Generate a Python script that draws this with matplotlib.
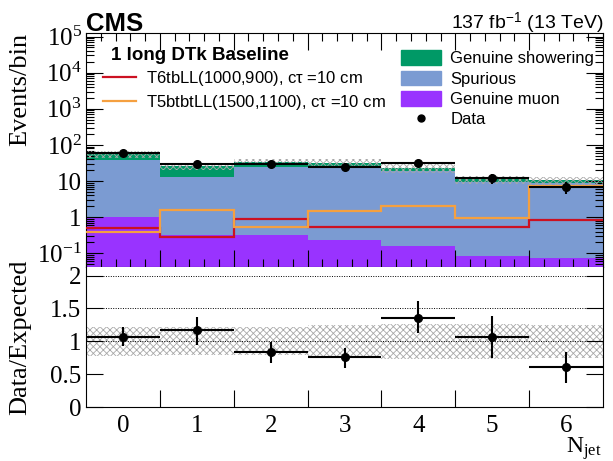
import numpy as np
import matplotlib
matplotlib.use("Agg")
import matplotlib.pyplot as plt
from matplotlib.lines import Line2D
from matplotlib.patches import Patch
from matplotlib.ticker import FixedLocator, LogLocator, NullFormatter

# ---------------- data ----------------
njet = [0, 1, 2, 3, 4, 5, 6]
njet_labels = ["0", "1", "2", "3", "4", "5", "6"]
genuine_muon = [1.0, 0.32, 0.32, 0.235, 0.16, 0.085, 0.076]
spurious = [38.0, 12.6, 24.0, 24.0, 18.4, 9.1, 8.7]
genuine_showering = [17.0, 13.0, 10.0, 8.0, 4.5, 1.9, 1.7]
data = [59, 30, 29, 25, 31, 12, 7]
sig_t6 = [0.49, 0.29, 0.90, 0.55, 0.52, 0.55, 0.81]
sig_t5 = [0.40, 1.60, 0.52, 1.50, 1.98, 0.94, 7.1]
ratio = [1.07, 1.17, 0.83, 0.76, 1.36, 1.07, 0.61]
ratio_err_up = [0.14, 0.20, 0.16, 0.14, 0.25, 0.31, 0.22]
ratio_err_dn = [0.14, 0.23, 0.16, 0.16, 0.24, 0.32, 0.24]
band_up = [1.21, 1.21, 1.21, 1.24, 1.26, 1.26, 1.24]
band_dn = [0.78, 0.79, 0.79, 0.76, 0.73, 0.73, 0.75]

# ---------------- style ----------------
plt.rcParams['mathtext.fontset'] = 'custom'
plt.rcParams['mathtext.rm'] = 'Liberation Serif'
plt.rcParams['mathtext.it'] = 'Liberation Serif:italic'
plt.rcParams['hatch.linewidth'] = 0.6
SERIF = 'Liberation Serif'
SANS = 'Liberation Sans'

c_show = '#009966'
c_spur = '#7b9bd2'
c_muon = '#9933ff'
c_t6 = '#cc1122'
c_t5 = '#f5a040'

W, H = 613, 461
fig = plt.figure(figsize=(W / 100, H / 100), dpi=100)
L, R = 86 / W, 603 / W
ax = fig.add_axes([L, 1 - 267 / H, R - L, (267 - 33) / H])
axr = fig.add_axes([L, 1 - 407 / H, R - L, (407 - 267) / H])

x = np.array(njet, dtype=float)
edges = np.append(x - 0.5, x[-1] + 0.5)
mu = np.array(genuine_muon)
sp = np.array(spurious)
sh = np.array(genuine_showering)
tot = mu + sp + sh
ymin, ymax = 10 ** -1.38, 10 ** 5.1

def stairs_fill(a, lo, hi, color, z):
    a.stairs(hi, edges, baseline=lo, fill=True, color=color, lw=0, zorder=z)

stairs_fill(ax, np.full_like(mu, ymin), mu, c_muon, 1)
stairs_fill(ax, mu, mu + sp, c_spur, 1)
stairs_fill(ax, mu + sp, tot, c_show, 1)

# uncertainty hatch
ax.bar(x, tot * (np.array(band_up) - np.array(band_dn)), bottom=tot * np.array(band_dn),
       width=1.0, fill=False, hatch='xxxxx', edgecolor='#a8a8a8', lw=0, zorder=2)

ax.stairs(sig_t6, edges, baseline=None, color=c_t6, lw=1.6, zorder=3)
ax.stairs(sig_t5, edges, baseline=None, color=c_t5, lw=1.6, zorder=3)

d = np.array(data, dtype=float)
ax.errorbar(x, d, yerr=np.sqrt(d), xerr=0.5, fmt='o', color='black', ms=5.5,
            elinewidth=1.5, capsize=0, zorder=5)

ax.set_yscale('log')
ax.set_ylim(ymin, ymax)
ax.set_xlim(-0.5, 6.5)
ax.yaxis.set_major_locator(FixedLocator([0.1, 1, 10, 100, 1e3, 1e4, 1e5]))
ax.set_yticklabels([r'$10^{-1}$', '1', '10', r'$10^{2}$', r'$10^{3}$', r'$10^{4}$', r'$10^{5}$'])
ax.yaxis.set_minor_locator(LogLocator(base=10, subs=np.arange(2, 10), numticks=20))
ax.yaxis.set_minor_formatter(NullFormatter())
ax.set_xticks(edges[1:-1])
ax.set_xticks(np.arange(-0.5, 6.51, 0.2), minor=True)
ax.tick_params(axis='x', labelbottom=False)
ax.tick_params(which='both', direction='in', top=True, right=True)
ax.tick_params(which='major', length=12, width=0.8)
ax.tick_params(which='minor', length=6, width=0.8)
for lab in ax.get_yticklabels():
    lab.set_fontfamily(SERIF)
ax.tick_params(axis='y', labelsize=18, pad=3)
ax.set_ylabel('Events/bin', fontfamily=SERIF, fontsize=19, loc='top', labelpad=2)

# legends
h_left = [Line2D([], [], color=c_t6, lw=1.6), Line2D([], [], color=c_t5, lw=1.6)]
l_left = [r'T6tbLL(1000,900), c$\mathregular{\tau}$ =10 cm',
          r'T5btbtLL(1500,1100), c$\mathregular{\tau}$ =10 cm']
leg1 = ax.legend(h_left, l_left, loc='upper left', bbox_to_anchor=(0.02, 0.968),
                 frameon=False, prop={'family': SANS, 'size': 12},
                 title='1 long DTk Baseline',
                 title_fontproperties={'family': SANS, 'size': 13.5, 'weight': 'bold'},
                 handlelength=2.0, handletextpad=0.6, labelspacing=0.3,
                 borderaxespad=0)
leg1._legend_box.align = 'left'
leg1.get_title().set_position((8, 0))
ax.add_artist(leg1)
h_right = [Patch(color=c_show), Patch(color=c_spur), Patch(color=c_muon),
           Line2D([], [], marker='o', color='black', ls='none', ms=5)]
l_right = ['Genuine showering', 'Spurious', 'Genuine muon', 'Data']
ax.legend(h_right, l_right, loc='upper left', bbox_to_anchor=(0.597, 0.955),
          frameon=False, prop={'family': SANS, 'size': 12},
          handlelength=2.4, handleheight=1.0, handletextpad=0.55,
          labelspacing=0.25, borderaxespad=0)

fig.text(L, 1 - 31 / H, 'CMS', fontfamily=SANS, fontweight='bold', fontsize=18.5,
         ha='left', va='baseline')
fig.text(R, 1 - 29 / H, r'137 fb$^{\mathregular{-1}}$ (13 TeV)', fontfamily=SANS,
         fontsize=14, ha='right', va='baseline')

# ratio panel
rb_up = np.array(band_up)
rb_dn = np.array(band_dn)
axr.bar(x, rb_up - rb_dn, bottom=rb_dn, width=1.0, fill=False, hatch='xxxxx',
        edgecolor='#a8a8a8', lw=0, zorder=1)
for yv in [1.0, 1.5, 2.0]:
    axr.axhline(yv, color='black', ls=(0, (1, 1.5)), lw=0.7, zorder=2)
axr.errorbar(x, ratio, yerr=[ratio_err_dn, ratio_err_up], xerr=0.5, fmt='o',
             color='black', ms=5.5, elinewidth=1.5, capsize=0, zorder=5)
axr.set_xlim(-0.5, 6.5)
axr.set_ylim(0, 2.13)
axr.set_yticks([0, 0.5, 1, 1.5, 2])
axr.set_yticklabels(['0', '0.5', '1', '1.5', '2'])
axr.set_xticks(edges[1:-1])
axr.set_xticklabels([''] * 6)
axr.set_xticks(x, njet_labels, minor=True)
axr.tick_params(which='major', direction='in', length=12, width=0.8, right=True)
axr.tick_params(axis='x', which='minor', length=0, pad=6)
axr.tick_params(axis='y', which='minor', length=0)
for lab in axr.get_yticklabels() + axr.get_xticklabels(minor=True):
    lab.set_fontfamily(SERIF)
axr.tick_params(axis='both', which='both', labelsize=18)
axr.spines['top'].set_visible(False)
axr.set_ylabel('Data/Expected', fontfamily=SERIF, fontsize=19, labelpad=2)
fig.text(R - 1 / W, 1 - 453 / H, r'N$_{\mathregular{jet}}$', fontfamily=SERIF,
         fontsize=17, ha='right', va='baseline')

# align y labels
ax.yaxis.set_label_coords(-0.105, 1.0)
axr.yaxis.set_label_coords(-0.105, 0.5)

fig.savefig('out.png', dpi=100)
